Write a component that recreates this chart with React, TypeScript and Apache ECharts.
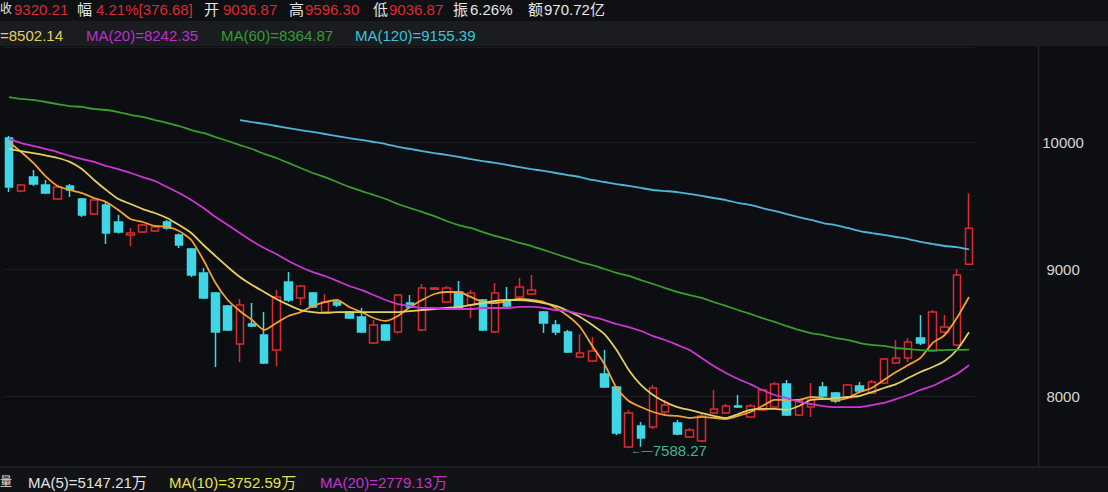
import React, { useEffect, useRef } from 'react';
import * as echarts from 'echarts';

const days = Array.from({ length: 80 }, (_, i) => `D${i + 1}`);

const openP = [10031, 9614, 9724, 9661, 9551, 9654, 9551, 9433, 9504, 9370,
  9268, 9291, 9300, 9370, 9268, 9157, 8969, 8811, 8709, 8409,
  8567, 8480, 8362, 8898, 8772, 8811, 8661, 8740, 8661, 8622,
  8417, 8559, 8504, 8732, 8520, 8840, 8740, 8819, 8717, 8756,
  8504, 8748, 8780, 8803, 8661, 8559, 8504, 8307, 8276, 8173,
  8071, 7598, 7764, 7756, 7874, 7787, 7677, 7646, 7866, 7866,
  7921, 7835, 7890, 7913, 8095, 7850, 7913, 8071, 8024, 7984,
  8079, 8024, 8102, 8260, 8299, 8457, 8354, 8504, 8402, 9036.87];
const closeP = [9646, 9661, 9669, 9598, 9646, 9622, 9425, 9543, 9283, 9291,
  9283, 9346, 9330, 9323, 9189, 8953, 8772, 8504, 8520, 8717,
  8551, 8260, 8780, 8756, 8866, 8701, 8740, 8717, 8614, 8504,
  8559, 8441, 8795, 8701, 8850, 8850, 8850, 8693, 8811, 8520,
  8811, 8709, 8858, 8835, 8575, 8504, 8346, 8338, 8354, 8071,
  7709, 7866, 7669, 8063, 7929, 7701, 7732, 7843, 7898, 7921,
  7913, 7921, 8047, 8095, 7850, 7969, 7969, 8000, 7961, 8087,
  8039, 8110, 8291, 8299, 8425, 8417, 8661, 8543, 8953, 9320.21];
const lowP = [9606, 9605, 9653, 9590, 9543, 9567, 9409, 9425, 9197, 9280,
  9181, 9283, 9291, 9310, 9165, 8937, 8764, 8228, 8512, 8268,
  8543, 8252, 8236, 8740, 8717, 8693, 8650, 8700, 8606, 8496,
  8409, 8433, 8490, 8690, 8510, 8835, 8732, 8685, 8614, 8512,
  8496, 8700, 8772, 8795, 8496, 8480, 8338, 8300, 8268, 8063,
  7693, 7588.27, 7600, 7740, 7860, 7690, 7670, 7638, 7858, 7858,
  7905, 7827, 7882, 7905, 7843, 7843, 7835, 7992, 7945, 7976,
  8030, 8016, 8095, 8252, 8268, 8402, 8346, 8488, 8394, 9036.87];
const highP = [10047, 9670, 9780, 9701, 9661, 9670, 9560, 9560, 9528, 9425,
  9323, 9354, 9338, 9386, 9280, 9165, 9008, 8819, 8717, 8764,
  8732, 8661, 8835, 8976, 8874, 8819, 8803, 8756, 8670, 8693,
  8598, 8567, 8803, 8795, 8882, 8858, 8866, 8906, 8835, 8764,
  8890, 8858, 8929, 8953, 8670, 8598, 8520, 8488, 8465, 8362,
  8079, 7890, 7795, 8087, 7968, 7811, 7748, 7866, 8047, 7937,
  8008, 7937, 8055, 8110, 8126, 7976, 8102, 8110, 8032, 8095,
  8110, 8126, 8300, 8441, 8457, 8638, 8677, 8638, 9000, 9596.30];

const ma5 = [10000, 9921, 9835, 9732, 9654, 9622, 9598, 9559, 9528, 9465,
  9394, 9370, 9339, 9331, 9299, 9228, 9071, 8890, 8756, 8669,
  8598, 8520, 8575, 8630, 8661, 8709, 8740, 8756, 8701, 8661,
  8614, 8591, 8630, 8701, 8756, 8803, 8819, 8819, 8780, 8740,
  8732, 8748, 8764, 8756, 8740, 8693, 8630, 8543, 8394, 8252,
  8063, 7961, 7913, 7874, 7850, 7843, 7827, 7835, 7827, 7819,
  7843, 7874, 7921, 7969, 7969, 7969, 7992, 7984, 7969, 7984,
  8031, 8063, 8126, 8189, 8244, 8299, 8417, 8480, 8614, 8780];
const ma10 = [9945, 9929, 9913, 9894, 9874, 9843, 9787, 9701, 9622, 9551,
  9512, 9472, 9441, 9402, 9346, 9283, 9189, 9102, 9016, 8937,
  8874, 8819, 8764, 8717, 8677, 8661, 8654, 8661, 8661, 8661,
  8661, 8661, 8661, 8669, 8677, 8685, 8693, 8701, 8717, 8732,
  8748, 8756, 8756, 8748, 8732, 8709, 8669, 8622, 8559, 8488,
  8362, 8205, 8087, 8008, 7953, 7913, 7890, 7866, 7843, 7827,
  7858, 7890, 7898, 7898, 7890, 7921, 7969, 7976, 7984, 7992,
  8000, 8031, 8063, 8094, 8142, 8189, 8228, 8276, 8362, 8502];
const ma20 = [10024, 9992, 9969, 9945, 9921, 9890, 9866, 9843, 9811, 9787,
  9756, 9724, 9693, 9646, 9598, 9543, 9480, 9409, 9346, 9283,
  9220, 9165, 9118, 9063, 9016, 8976, 8945, 8906, 8866, 8835,
  8795, 8756, 8724, 8709, 8693, 8693, 8685, 8685, 8685, 8693,
  8693, 8693, 8701, 8701, 8693, 8677, 8669, 8646, 8622, 8598,
  8567, 8543, 8512, 8472, 8441, 8402, 8362, 8299, 8236, 8181,
  8134, 8094, 8047, 8008, 7984, 7953, 7937, 7921, 7913, 7913,
  7913, 7929, 7945, 7976, 8008, 8047, 8079, 8126, 8173, 8242];
const ma60 = [10354, 10339, 10331, 10315, 10299, 10283, 10276, 10260, 10252, 10236,
  10213, 10197, 10173, 10150, 10126, 10094, 10071, 10039, 10008, 9976,
  9945, 9906, 9874, 9835, 9795, 9756, 9724, 9685, 9646, 9614,
  9583, 9551, 9512, 9480, 9449, 9417, 9378, 9346, 9323, 9291,
  9260, 9236, 9205, 9181, 9150, 9118, 9087, 9055, 9031, 9000,
  8969, 8945, 8913, 8882, 8850, 8819, 8795, 8772, 8740, 8709,
  8677, 8646, 8614, 8583, 8551, 8520, 8496, 8480, 8457, 8441,
  8417, 8402, 8394, 8378, 8370, 8362, 8360, 8362, 8363, 8365];
const ma120 = [null, null, null, null, null, null, null, null, null, null,
  null, null, null, null, null, null, null, null, null, 10173,
  10157, 10142, 10126, 10110, 10094, 10079, 10063, 10047, 10031, 10016,
  10000, 9984, 9961, 9945, 9929, 9913, 9898, 9882, 9866, 9850,
  9835, 9819, 9803, 9787, 9772, 9756, 9740, 9724, 9701, 9685,
  9669, 9654, 9638, 9622, 9614, 9606, 9591, 9575, 9559, 9543,
  9520, 9504, 9480, 9457, 9433, 9409, 9386, 9362, 9346, 9323,
  9299, 9283, 9268, 9252, 9236, 9213, 9197, 9181, 9173, 9155];

const quoteLabels = ['收', '幅', '开', '高', '低', '振', '额'];
const quoteValues = ['9320.21', '4.21%[376.68]', '9036.87', '9596.30', '9036.87', '6.26%', '970.72亿'];
const maNames = ['', 'MA(20)', 'MA(60)', 'MA(120)'];
const maValues = ['8502.14', '8242.35', '8364.87', '9155.39'];
const volNames = ['MA(5)', 'MA(10)', 'MA(20)'];
const volValues = ['5147.21万', '3752.59万', '2779.13万'];
const yTicks = [8000, 9000, 10000];

const FONT = '"Liberation Sans", "Noto Sans CJK SC", sans-serif';
const RED = '#dc2a31';
const CYAN = '#3fd6e6';
const C_MA5 = '#f0a035';
const C_MA10 = '#e2cf62';
const C_MA20 = '#cc36d4';
const C_MA60 = '#3a9e2c';
const C_MA120 = '#4fb6d8';
const BG = '#0d0e12';

function txt(x: number, y: number, text: string, fill: string, align = 'left', size = 15) {
  return {
    type: 'text', x, y, silent: true,
    style: { text, fill, font: `${size}px ${FONT}`, textAlign: align, textVerticalAlign: 'middle' },
  };
}

export default function App() {
  const ref = useRef<HTMLDivElement>(null);
  useEffect(() => {
    const chart = echarts.init(ref.current!, null, { renderer: 'svg' });
    const labelX = [0, 77, 204, 289, 373, 453, 528];
    const valueX = [14, 96, 223, 305, 389, 470, 544];
    const header: any[] = [];
    quoteLabels.forEach((l, i) => {
      header.push(txt(labelX[i], 9, l, '#e6e6e6', 'left', i === 0 ? 12 : 15));
      header.push(txt(valueX[i], 9, quoteValues[i], i >= 5 ? '#e6e6e6' : RED));
    });
    const maColors = [C_MA10, '#b932cc', '#2f9f2f', '#3cc2dc'];
    const maX = [0, 86, 221, 355];
    maNames.forEach((n, i) => {
      header.push(txt(maX[i], 35, `${n}=${maValues[i]}`, maColors[i]));
    });
    const volColors = ['#e2e2e2', '#e4e24c', '#c232d2'];
    const volX = [28, 169, 320];
    header.push(txt(0, 482, '量', '#e2e2e2', 'left', 12));
    volNames.forEach((n, i) => {
      header.push(txt(volX[i], 482, `${n}=${volValues[i]}`, volColors[i]));
    });

    const maSeries = [
      { name: 'MA5', data: ma5, color: C_MA5 },
      { name: 'MA10', data: ma10, color: C_MA10 },
      { name: 'MA20', data: ma20, color: C_MA20 },
      { name: 'MA60', data: ma60, color: C_MA60 },
      { name: 'MA120', data: ma120, color: C_MA120 },
    ].map((s) => ({
      name: s.name, type: 'line', data: s.data, symbol: 'none', smooth: 0.2,
      lineStyle: { color: s.color, width: 1.8 }, silent: true, z: 3,
    }));

    chart.setOption({
      animation: false,
      backgroundColor: BG,
      grid: { left: 2.924, right: 132.93, top: 46.75, bottom: 32.5 },
      xAxis: {
        type: 'category', data: days, boundaryGap: true,
        axisLine: { show: false }, axisTick: { show: false }, axisLabel: { show: false }, splitLine: { show: false },
      },
      yAxis: {
        type: 'value', position: 'right', min: 7500, max: 10750, interval: 500, scale: true,
        axisLine: { show: false }, axisTick: { show: false },
        axisLabel: {
          margin: 88, align: 'center', color: '#d6d6d6', fontSize: 15, fontFamily: FONT,
          formatter: (v: number) => (yTicks.includes(v) ? String(v) : ''),
        },
        splitLine: { show: true, lineStyle: { color: ['rgba(0,0,0,0)', '#1a1c20'], width: 1 } },
      },
      graphic: [
        { type: 'rect', shape: { x: 0, y: 0, width: 1108, height: 21 }, style: { fill: '#0f1013' }, z: -10 },
        { type: 'rect', shape: { x: 0, y: 21, width: 1108, height: 25 }, style: { fill: '#1b1c20' }, z: -10 },
        { type: 'rect', shape: { x: 0, y: 467, width: 1108, height: 25 }, style: { fill: '#121317' }, z: -10 },
        { type: 'line', shape: { x1: 0, y1: 467, x2: 1108, y2: 467 }, style: { stroke: '#2a2c31', lineWidth: 1 }, z: -5 },
        { type: 'line', shape: { x1: 1038.5, y1: 46, x2: 1038.5, y2: 467 }, style: { stroke: '#222428', lineWidth: 1.5 }, z: -5 },
        ...header,
      ],
      series: [
        {
          name: 'K', type: 'candlestick', barWidth: 8,
          data: days.map((_, i) => [openP[i], closeP[i], lowP[i], highP[i]]),
          itemStyle: { color: BG, color0: CYAN, borderColor: RED, borderColor0: CYAN, borderWidth: 1.5 },
          silent: true,
          markPoint: {
            symbol: 'circle', symbolSize: 0, silent: true,
            data: [{ coord: [days[51], lowP[51]], value: lowP[51] }],
            label: {
              show: true, position: 'right', distance: 1, offset: [1, 2],
              formatter: (p: any) => '{a|←—}{b|' + Number(p.value).toFixed(2) + '}',
              rich: {
                a: { color: '#45b48e', fontSize: 11, fontFamily: FONT },
                b: { color: '#45b48e', fontSize: 15, fontFamily: FONT },
              },
            },
          },
        },
        ...maSeries,
      ],
    });
    return () => chart.dispose();
  }, []);
  return (
    <div
      ref={ref}
      style={{ position: 'fixed', left: 0, top: 0, width: 1108, height: 492, background: BG }}
    />
  );
}
